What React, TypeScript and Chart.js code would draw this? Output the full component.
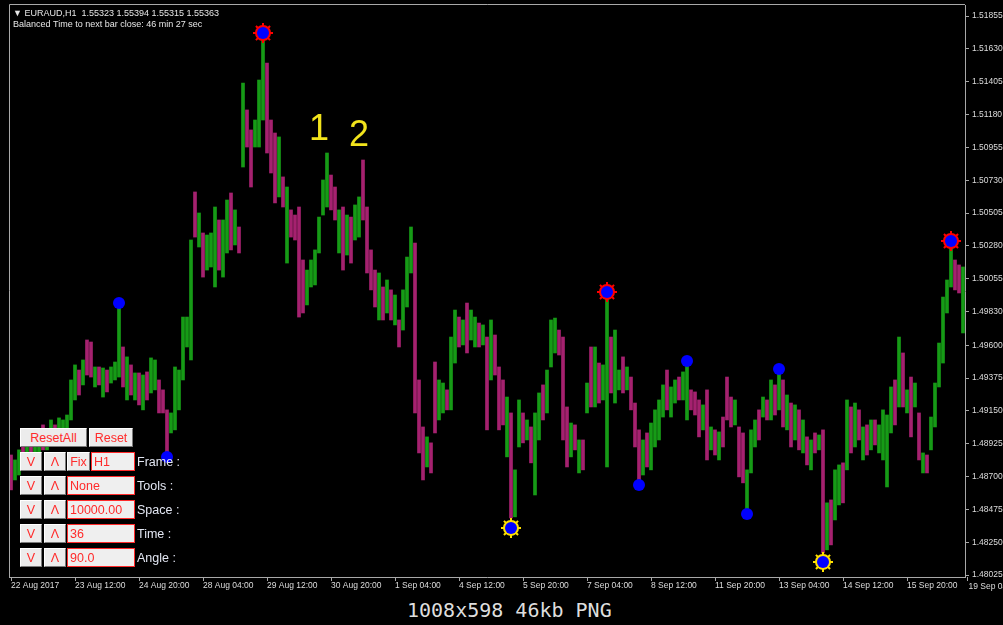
import React, { useEffect, useRef } from 'react';
import { Chart, registerables } from 'chart.js';

Chart.register(...registerables);

// ---- data (EURAUD H1, one entry = one drawn bar) ----
const highs: number[] = [
  1.48848, 1.48814, 1.48883, 1.48917, 1.48951, 1.48917, 1.48985, 1.49020, 1.49054, 1.49020,
  1.49088, 1.49054, 1.49102, 1.49088, 1.49122, 1.49362, 1.49465, 1.49430, 1.49499, 1.49636,
  1.49622, 1.49451, 1.49451, 1.49444, 1.49430, 1.49451, 1.49485, 1.49876, 1.49588, 1.49520,
  1.49465, 1.49410, 1.49410, 1.49396, 1.49417, 1.49513, 1.49499, 1.49362, 1.49294, 1.49157,
  1.49136, 1.49451, 1.49430, 1.49793, 1.49793, 1.50321, 1.50650, 1.50506, 1.50369, 1.50355,
  1.50369, 1.50547, 1.50458, 1.50458, 1.50595, 1.50643, 1.50527, 1.50410, 1.51396, 1.51212,
  1.51075, 1.51143, 1.51417, 1.51739, 1.51533, 1.51143, 1.51054, 1.51027, 1.50753, 1.50684,
  1.50527, 1.50492, 1.50547, 1.50184, 1.50115, 1.50184, 1.50253, 1.50478, 1.50732, 1.50917,
  1.50766, 1.50684, 1.50527, 1.50547, 1.50492, 1.50478, 1.50561, 1.50616, 1.50869, 1.50547,
  1.50253, 1.50115, 1.50095, 1.49999, 1.50047, 1.49979, 1.49944, 1.49773, 1.49979, 1.50204,
  1.50410, 1.50300, 1.49362, 1.49040, 1.48972, 1.48931, 1.49485, 1.49362, 1.49341, 1.49294,
  1.49656, 1.49841, 1.49793, 1.49773, 1.49889, 1.49841, 1.49793, 1.49752, 1.49739, 1.49656,
  1.49773, 1.49670, 1.49451, 1.49362, 1.49245, 1.49136, 1.48746, 1.49225, 1.49136, 1.49088,
  1.49040, 1.49136, 1.49273, 1.49328, 1.49430, 1.49773, 1.49786, 1.49704, 1.49656, 1.49177,
  1.49067, 1.49054, 1.48951, 1.48951, 1.49341, 1.49588, 1.49588, 1.49478, 1.49465, 1.49930,
  1.49656, 1.49704, 1.49430, 1.49520, 1.49451, 1.49382, 1.49204, 1.49020, 1.48951, 1.48999,
  1.49067, 1.49157, 1.49225, 1.49328, 1.49430, 1.49314, 1.49362, 1.49382, 1.49417, 1.49478,
  1.49294, 1.49280, 1.49225, 1.49191, 1.49294, 1.49040, 1.49020, 1.49006, 1.49108, 1.49382,
  1.49245, 1.49225, 1.49040, 1.48999, 1.48746, 1.49020, 1.49088, 1.49157, 1.49245, 1.49225,
  1.49362, 1.49328, 1.49410, 1.49362, 1.49259, 1.49204, 1.49191, 1.49157, 1.49088, 1.48972,
  1.48951, 1.48999, 1.48985, 1.49020, 1.48520, 1.48540, 1.48746, 1.48780, 1.48794, 1.49225,
  1.49177, 1.49204, 1.49157, 1.49040, 1.49054, 1.49088, 1.49088, 1.49054, 1.49157, 1.49122,
  1.49314, 1.49362, 1.49656, 1.49547, 1.49294, 1.49382, 1.49341, 1.49136, 1.48862, 1.48848,
  1.49108, 1.49341, 1.49615, 1.49930, 1.50047, 1.50287, 1.50184, 1.50150, 1.50136,
];

const lows: number[] = [
  1.48609, 1.48677, 1.48711, 1.48746, 1.48746, 1.48780, 1.48814, 1.48848, 1.48883, 1.48883,
  1.48917, 1.48951, 1.48965, 1.48985, 1.49020, 1.49088, 1.49225, 1.49259, 1.49328, 1.49396,
  1.49382, 1.49314, 1.49328, 1.49245, 1.49280, 1.49341, 1.49362, 1.49382, 1.49314, 1.49225,
  1.49259, 1.49225, 1.49191, 1.49157, 1.49225, 1.49273, 1.49294, 1.49136, 1.49136, 1.48835,
  1.48999, 1.49020, 1.49157, 1.49362, 1.49588, 1.49499, 1.50341, 1.50273, 1.50067, 1.50115,
  1.50136, 1.49999, 1.50115, 1.50067, 1.50232, 1.50253, 1.50287, 1.50232, 1.50821, 1.50958,
  1.50684, 1.50958, 1.50958, 1.51143, 1.50917, 1.50780, 1.50575, 1.50616, 1.50547, 1.50163,
  1.50341, 1.50321, 1.49793, 1.49821, 1.49876, 1.49999, 1.50013, 1.50232, 1.50492, 1.50547,
  1.50527, 1.50458, 1.50232, 1.50115, 1.50218, 1.50163, 1.50321, 1.50341, 1.50458, 1.50095,
  1.49979, 1.49862, 1.49773, 1.49773, 1.49821, 1.49773, 1.49739, 1.49588, 1.49704, 1.49862,
  1.50095, 1.49136, 1.48862, 1.48677, 1.48766, 1.48725, 1.48999, 1.49088, 1.49136, 1.49157,
  1.49157, 1.49478, 1.49588, 1.49602, 1.49547, 1.49636, 1.49588, 1.49588, 1.49602, 1.49020,
  1.49362, 1.49396, 1.49020, 1.49054, 1.48835, 1.48417, 1.48424, 1.48903, 1.48931, 1.48951,
  1.48794, 1.48574, 1.48951, 1.49088, 1.49136, 1.49451, 1.49547, 1.49533, 1.48951, 1.48766,
  1.48835, 1.48883, 1.48725, 1.48746, 1.49136, 1.49177, 1.49177, 1.49204, 1.49225, 1.48766,
  1.49273, 1.49204, 1.49294, 1.49273, 1.49294, 1.49157, 1.48903, 1.48677, 1.48711, 1.48766,
  1.48746, 1.48903, 1.48951, 1.49108, 1.49157, 1.49108, 1.49204, 1.49225, 1.49225, 1.49088,
  1.49157, 1.49122, 1.48972, 1.49020, 1.48814, 1.48883, 1.48848, 1.48814, 1.48903, 1.49088,
  1.49040, 1.49054, 1.48698, 1.48657, 1.48472, 1.48725, 1.48903, 1.48951, 1.49108, 1.49088,
  1.49088, 1.49122, 1.49157, 1.49040, 1.49020, 1.48903, 1.48951, 1.48883, 1.48862, 1.48780,
  1.48746, 1.48862, 1.48883, 1.48177, 1.48198, 1.48232, 1.48403, 1.48506, 1.48520, 1.48746,
  1.48862, 1.48903, 1.48951, 1.48814, 1.48848, 1.48883, 1.48917, 1.48862, 1.48814, 1.48629,
  1.48999, 1.49054, 1.49177, 1.49177, 1.49136, 1.48972, 1.49177, 1.48814, 1.48725, 1.48725,
  1.48883, 1.49040, 1.49314, 1.49478, 1.49821, 1.49999, 1.49979, 1.49958, 1.49684,
];

// G = bullish bar, M = bearish bar
const barDirections: string[] = (
  'MGGMGMGGMG' + 'GMGGGGGMGM' + 'MGMGMGGGMG' + 'MGMGMGGMMM' + 'GGGGGGMGMG' +
  'GGMGGMGMGM' + 'MGGGMMMGMG' + 'MMMMGGGGGG' + 'MMGMGMGGMM' + 'MMGMGMGMGG' +
  'GMMMGMMGGM' + 'GGMGMGGMGM' + 'GMMMGMGGMG' + 'MGGMGGGMMM' + 'GMGMGMGMGG' +
  'MGGMGMMMGM' + 'GGGGMGGMGG' + 'MMMGMGMGMM' + 'MGMMGGGMGM' + 'GMGMGMGMGM' +
  'GMGMGMGGMG' + 'MGMGMGMGGG' + 'GMGMGMGMGM' + 'GGGGGGMMG'
).split('');

// fractal markers
const peakIndex: number[] = [63, 149, 235];
const peakPrice: number[] = [1.51739, 1.49965, 1.50314];
const troughIndex: number[] = [125, 203];
const troughPrice: number[] = [1.48348, 1.48115];
const dotIndex: number[] = [27, 39, 157, 169, 184, 192];
const dotPrice: number[] = [1.49889, 1.48835, 1.48643, 1.49492, 1.48444, 1.49437];

// tick labels
const yTicks: number[] = [
  1.51855, 1.5163, 1.51405, 1.5118, 1.50955, 1.5073, 1.50505, 1.5028, 1.50055,
  1.4983, 1.496, 1.49375, 1.4915, 1.48925, 1.487, 1.48475, 1.4825, 1.48025,
];
const xTickLabels: string[] = [
  '22 Aug 2017', '23 Aug 12:00', '24 Aug 20:00', '28 Aug 04:00', '29 Aug 12:00',
  '30 Aug 20:00', '1 Sep 04:00', '4 Sep 12:00', '5 Sep 20:00', '7 Sep 04:00',
  '8 Sep 12:00', '11 Sep 20:00', '13 Sep 04:00', '14 Sep 12:00', '15 Sep 20:00',
  '19 Sep 04:00',
];
const xTickEvery = 16;

const headerLine1 = '\u25BC EURAUD,H1  1.55323 1.55394 1.55315 1.55363';
const headerLine2 = 'Balanced Time to next bar close: 46 min 27 sec';

const annotations = [
  { text: '1', index: 77, price: 1.51006 },
  { text: '2', index: 87, price: 1.50965 },
];

const panelRows = [
  { fix: true, value: 'H1', label: 'Frame :' },
  { fix: false, value: 'None', label: 'Tools :' },
  { fix: false, value: '10000.00', label: 'Space :' },
  { fix: false, value: '36', label: 'Time :' },
  { fix: false, value: '90.0', label: 'Angle :' },
];

const caption = '1008x598 46kb PNG';

const UP = '#169b16';
const DOWN = '#a5216f';
const AXIS = '#a8a8a8';
const TXT = '#dcdcdc';
const TICK_FONT = '"Liberation Sans", "DejaVu Sans", sans-serif';

function spread(idx: number[], vals: number[], n: number): (number | null)[] {
  const out: (number | null)[] = new Array(n).fill(null);
  idx.forEach((k, j) => { out[k] = vals[j]; });
  return out;
}

const mt4Plugin = {
  id: 'mt4',
  beforeDraw(chart: any) {
    const { ctx, width, height } = chart;
    ctx.save();
    ctx.fillStyle = '#000';
    ctx.fillRect(0, 0, width, height);
    ctx.restore();
  },
  afterDraw(chart: any) {
    const { ctx, chartArea } = chart;
    const xs = chart.scales.x;
    const ys = chart.scales.y;
    ctx.save();
    // frame
    ctx.strokeStyle = AXIS;
    ctx.lineWidth = 1;
    ctx.beginPath();
    ctx.moveTo(chartArea.left + 0.5, chartArea.bottom);
    ctx.lineTo(chartArea.left + 0.5, chartArea.top - 0.5);
    ctx.lineTo(chartArea.right, chartArea.top - 0.5);
    ctx.stroke();
    // header
    ctx.fillStyle = '#e6e6e6';
    ctx.font = '9px ' + TICK_FONT;
    ctx.textAlign = 'left';
    ctx.textBaseline = 'alphabetic';
    ctx.fillText(headerLine1, 13, 16);
    ctx.fillText(headerLine2, 13, 27);
    // annotations
    ctx.fillStyle = '#f2e41c';
    ctx.font = '36px "Liberation Sans", Arial, sans-serif';
    ctx.textAlign = 'center';
    annotations.forEach((a) => {
      ctx.fillText(a.text, xs.getPixelForValue(a.index), ys.getPixelForValue(a.price));
    });
    // last time label (sits under the price scale)
    const lastIdx = (xTickLabels.length - 1) * xTickEvery;
    const lx = Math.round(xs.getPixelForValue(lastIdx)) - 3.5;
    ctx.strokeStyle = AXIS;
    ctx.beginPath();
    ctx.moveTo(lx, chartArea.bottom);
    ctx.lineTo(lx, chartArea.bottom + 4);
    ctx.stroke();
    ctx.fillStyle = TXT;
    ctx.font = '8.5px ' + TICK_FONT;
    ctx.textAlign = 'left';
    ctx.textBaseline = 'top';
    ctx.fillText(xTickLabels[xTickLabels.length - 1], lx + 1, chartArea.bottom + 5);
    ctx.restore();
  },
};

function ChartCanvas() {
  const ref = useRef<HTMLCanvasElement>(null);
  useEffect(() => {
    const n = highs.length;
    const labels = highs.map((_, i) => String(i));
    const chart = new Chart(ref.current as HTMLCanvasElement, {
      type: 'bar',
      data: {
        labels,
        datasets: [
          {
            type: 'line',
            data: spread(dotIndex.concat(peakIndex, troughIndex), dotPrice.concat(peakPrice, troughPrice), n),
            showLine: false,
            pointRadius: 6,
            pointStyle: 'circle',
            pointBackgroundColor: '#0000ff',
            pointBorderColor: '#0000ff',
            pointBorderWidth: 0,
            clip: false,
            order: 1,
          } as any,
          {
            type: 'line',
            data: spread(peakIndex, peakPrice, n),
            showLine: false,
            pointRadius: 8,
            pointStyle: 'circle',
            pointBackgroundColor: '#ff0000',
            pointBorderWidth: 0,
            clip: false,
            order: 2,
          } as any,
          {
            type: 'line',
            data: spread(peakIndex, peakPrice, n),
            showLine: false,
            pointRadius: 10,
            pointStyle: 'star',
            pointBorderColor: '#ff0000',
            pointBorderWidth: 2,
            clip: false,
            order: 3,
          } as any,
          {
            type: 'line',
            data: spread(troughIndex, troughPrice, n),
            showLine: false,
            pointRadius: 8,
            pointStyle: 'circle',
            pointBackgroundColor: '#ffe000',
            pointBorderWidth: 0,
            clip: false,
            order: 2,
          } as any,
          {
            type: 'line',
            data: spread(troughIndex, troughPrice, n),
            showLine: false,
            pointRadius: 10,
            pointStyle: 'star',
            pointBorderColor: '#ffe000',
            pointBorderWidth: 2,
            clip: false,
            order: 3,
          } as any,
          {
            type: 'bar',
            data: lows.map((l, i) => [l, highs[i]]),
            backgroundColor: barDirections.map((d) => (d === 'G' ? UP : DOWN)),
            borderWidth: 0,
            barThickness: 3,
            order: 10,
          } as any,
        ],
      },
      options: {
        responsive: false,
        animation: false,
        events: [],
        layout: { autoPadding: false, padding: { left: 9, top: 5, right: 0, bottom: 0 } },
        plugins: { legend: { display: false }, tooltip: { enabled: false } },
        scales: {
          x: {
            type: 'category',
            offset: true,
            border: { display: true, color: AXIS, width: 1 },
            grid: { display: true, drawOnChartArea: false, drawTicks: true, tickLength: 4, color: AXIS, offset: false },
            ticks: {
              autoSkip: false,
              maxRotation: 0,
              minRotation: 0,
              align: 'start',
              padding: 0,
              color: TXT,
              font: { family: TICK_FONT, size: 8.5 },
              callback: (_v: any, i: number) => (i % xTickEvery === 0 ? xTickLabels[i / xTickEvery] : null),
            },
            afterFit: (s: any) => {
              s.height = 21;
              s.paddingLeft = 0;
              s.paddingRight = 0;
              s.paddingTop = 0;
              s.paddingBottom = 0;
            },
          },
          y: {
            type: 'linear',
            position: 'right',
            min: 1.48012,
            max: 1.51931,
            border: { display: true, color: AXIS, width: 1 },
            grid: { display: true, drawOnChartArea: false, drawTicks: true, tickLength: 4, color: AXIS },
            afterBuildTicks: (s: any) => { s.ticks = yTicks.map((v) => ({ value: v })); },
            ticks: {
              padding: 3,
              color: TXT,
              font: { family: TICK_FONT, size: 8.5 },
              callback: (v: any) => Number(v).toFixed(5),
            },
            afterFit: (s: any) => {
              s.width = 38;
              s.paddingLeft = 0;
              s.paddingRight = 0;
              s.paddingTop = 0;
              s.paddingBottom = 0;
            },
          },
        },
      } as any,
      plugins: [mt4Plugin],
    });
    return () => chart.destroy();
  }, []);
  return <canvas ref={ref} width={1003} height={598} style={{ display: 'block' }} />;
}

const btnBase: React.CSSProperties = {
  position: 'absolute',
  boxSizing: 'border-box',
  background: '#ececec',
  borderTop: '1px solid #ffffff',
  borderLeft: '1px solid #ffffff',
  borderRight: '1px solid #7a7a7a',
  borderBottom: '1px solid #7a7a7a',
  color: '#ff2b2b',
  font: '12.5px "Liberation Sans", Arial, sans-serif',
  display: 'flex',
  alignItems: 'center',
  justifyContent: 'center',
};
const editBase: React.CSSProperties = {
  position: 'absolute',
  boxSizing: 'border-box',
  background: '#efefef',
  border: '1px solid #ff2b2b',
  color: '#ff2b2b',
  font: '12.5px "Liberation Sans", Arial, sans-serif',
  display: 'flex',
  alignItems: 'center',
  paddingLeft: 2,
};

function Panel() {
  const rowTop = (r: number) => 452 + r * 24;
  return (
    <>
      <div style={{ ...btnBase, left: 20, top: 428, width: 67, height: 19 }}>ResetAll</div>
      <div style={{ ...btnBase, left: 89, top: 428, width: 44, height: 19 }}>Reset</div>
      {panelRows.map((r, i) => (
        <React.Fragment key={i}>
          <div style={{ ...btnBase, left: 20, top: rowTop(i), width: 22, height: 19 }}>V</div>
          <div style={{ ...btnBase, left: 44, top: rowTop(i), width: 22, height: 19 }}>Λ</div>
          {r.fix ? (
            <>
              <div style={{ ...btnBase, left: 67, top: rowTop(i), width: 23, height: 19 }}>Fix</div>
              <div style={{ ...editBase, left: 91, top: rowTop(i), width: 44, height: 19 }}>{r.value}</div>
            </>
          ) : (
            <div style={{ ...editBase, left: 67, top: rowTop(i), width: 68, height: 19 }}>{r.value}</div>
          )}
          <div
            style={{
              position: 'absolute', left: 137, top: rowTop(i) + 3, color: '#e2e6f2',
              font: '12.5px "Liberation Sans", Arial, sans-serif', whiteSpace: 'nowrap',
            }}
          >
            {r.label}
          </div>
        </React.Fragment>
      ))}
    </>
  );
}

export default function App() {
  useEffect(() => {
    document.body.style.margin = '0';
    document.body.style.background = '#000';
  }, []);
  return (
    <div style={{ position: 'relative', width: 1003, height: 625, background: '#000', overflow: 'hidden' }}>
      <ChartCanvas />
      <Panel />
      <div
        style={{
          position: 'absolute', left: 407, top: 600, color: '#dedede',
          font: '20px "DejaVu Sans Mono", monospace', lineHeight: '20px', whiteSpace: 'pre',
        }}
      >
        {caption}
      </div>
    </div>
  );
}
